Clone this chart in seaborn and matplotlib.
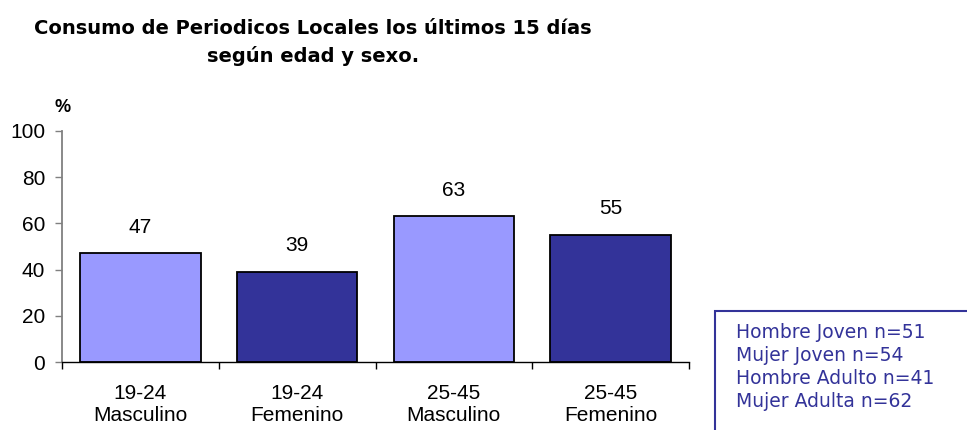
import pandas as pd
import matplotlib.pyplot as plt
import seaborn as sns

# chart data
groups = ["19-24\nMasculino", "19-24\nFemenino", "25-45\nMasculino", "25-45\nFemenino"]
values = [47, 39, 63, 55]
bar_colors = ["#9999FF", "#333399", "#9999FF", "#333399"]
yticks = [0, 20, 40, 60, 80, 100]
legend_lines = ["Hombre Joven n=51", "Mujer Joven n=54",
                "Hombre Adulto n=41", "Mujer Adulta n=62"]
title = "Consumo de Periodicos Locales los últimos 15 días\nsegún edad y sexo."

df = pd.DataFrame({"grupo": groups, "pct": values})

sns.set_style("white")
plt.rcParams['font.family'] = ['Liberation Sans', 'DejaVu Sans']
plt.rcParams['text.color'] = 'black'
plt.rcParams['xtick.color'] = 'black'
plt.rcParams['ytick.color'] = 'black'

fig = plt.figure(figsize=(9.67, 4.30), dpi=100)
ax = fig.add_axes([62 / 967, 1 - 362 / 430, (689 - 62) / 967, (362 - 131) / 430])

sns.barplot(data=df, x="grupo", y="pct", hue="grupo",
            palette=dict(zip(groups, bar_colors)), width=0.77, saturation=1,
            edgecolor="black", linewidth=1.3, legend=False, ax=ax)

# value labels above bars
for cont in ax.containers:
    ax.bar_label(cont, fmt="%d", padding=12, fontsize=15, color="black")

ax.set_ylim(0, 100)
ax.set_xlim(-0.5, len(groups) - 0.5)
ax.set_yticks(yticks)
ax.tick_params(axis="y", labelsize=15, length=5, width=1, color="#808080",
               labelcolor="black", pad=7, direction="out", left=True)

# tick marks between categories, labels centred under bars
ax.set_xticks([i - 0.5 for i in range(len(groups) + 1)])
ax.set_xticklabels([])
ax.set_xticks(range(len(groups)), minor=True)
ax.set_xticklabels(groups, minor=True, fontsize=15)
ax.tick_params(axis="x", which="major", length=5, width=1, color="black",
               direction="out", bottom=True)
ax.tick_params(axis="x", which="minor", length=0, pad=16, labelcolor="black")

ax.set_xlabel("")
ax.set_ylabel("")
sns.despine(ax=ax)
ax.spines["left"].set_color("#808080")
ax.spines["left"].set_linewidth(1.3)
ax.spines["bottom"].set_color("black")
ax.spines["bottom"].set_linewidth(1.0)

fig.text(63 / 967, 1 - 107 / 430, "%", fontsize=13, fontweight="bold",
         ha="center", va="center")

fig.text(313 / 967, 1 - 42 / 430, title, fontsize=14, fontweight="bold",
         family="DejaVu Sans", ha="center", va="center", linespacing=1.5)

# n box at lower right
box = plt.Rectangle((715 / 967, -0.01), 0.3, 1 - 311 / 430 + 0.01,
                    transform=fig.transFigure, fill=False,
                    edgecolor="#333399", linewidth=1.5)
fig.patches.append(box)
for i, line in enumerate(legend_lines):
    fig.text(736 / 967, 1 - (333 + i * 22.7) / 430, line, fontsize=13.5,
             color="#333399", family="DejaVu Sans", ha="left", va="center")

fig.savefig("out.png", dpi=100)
